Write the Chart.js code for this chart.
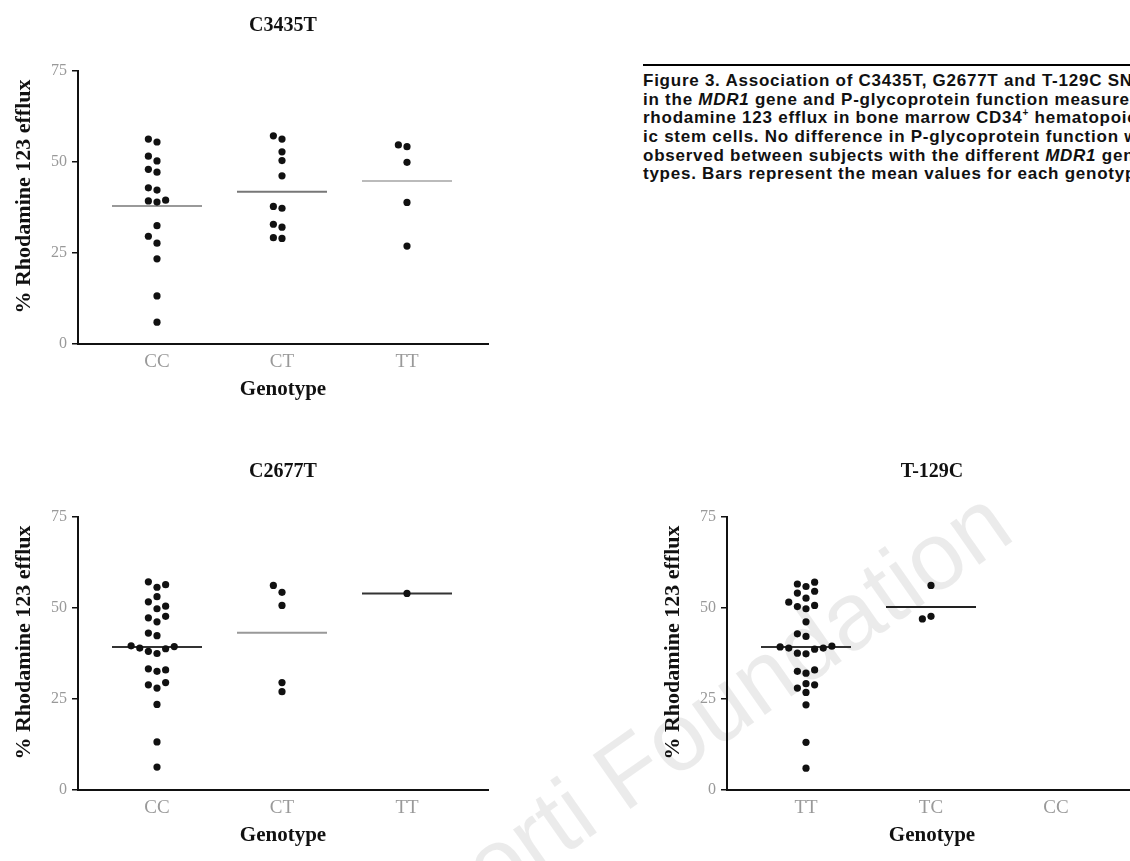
<!DOCTYPE html>
<html lang="en">
<head>
  <meta charset="UTF-8" />
  <title>MDR1 SNPs and rhodamine 123 efflux</title>
  <script src="https://cdn.jsdelivr.net/npm/chart.js"></script>
  <style>
    html, body { margin: 0; padding: 0; background: #fff; }
    #page { position: relative; width: 1130px; height: 861px; overflow: hidden; }
    .plot { position: absolute; width: 500px; height: 420px; }
    #p1 { left: 0; top: 0; }
    #p2 { left: 0; top: 446px; }
    #p3 { left: 649px; top: 446px; }
    #caption {
      position: absolute; left: 643px; top: 64px; width: 800px;
      border-top: 2px solid #000; padding-top: 6px;
      font: bold 17px "Liberation Sans", Arial, sans-serif; line-height: 18.66px;
      letter-spacing: 0.75px; white-space: nowrap; color: #111;
    }
    #caption sup { font-size: 10px; line-height: 0; }
    #mark {
      position: absolute; right: 100px; bottom: 305px;
      transform-origin: 100% 100%; transform: rotate(-35deg);
      font: 96px "Liberation Sans", Arial, sans-serif; color: rgba(0,0,0,0.08);
      white-space: nowrap;
    }
  </style>
</head>
<body>
<div id="page">
  <div id="mark">Ferrata Storti Foundation</div>

  <div id="caption">
    Figure 3. Association of C3435T, G2677T and T-129C SNPs<br>
    in the <i>MDR1</i> gene and P-glycoprotein function measured by<br>
    rhodamine 123 efflux in bone marrow CD34<sup>+</sup> hematopoiet-<br>
    ic stem cells. No difference in P-glycoprotein function was<br>
    observed between subjects with the different <i>MDR1</i> geno-<br>
    types. Bars represent the mean values for each genotype.
  </div>

  <div class="plot" id="p1"><canvas id="c1"></canvas></div>
  <div class="plot" id="p2"><canvas id="c2"></canvas></div>
  <div class="plot" id="p3"><canvas id="c3"></canvas></div>
</div>

<script>
  // shared axis texts
  const yTicks = [0, 25, 50, 75];
  const yTitle = '% Rhodamine 123 efflux';
  const xTitle = 'Genotype';

  // C3435T
  const c3435Title = 'C3435T';
  const c3435Cats = ['CC', 'CT', 'TT'];
  const c3435CC = [55.5, 56.3, 50.3, 51.6, 47.2, 48.0, 42.3, 42.9, 39.0, 39.3, 39.5, 32.5, 27.7, 29.6, 23.4, 13.2, 6.0];
  const c3435CT = [56.3, 57.2, 52.8, 50.4, 46.2, 37.3, 37.8, 32.1, 32.9, 29.0, 29.2];
  const c3435TT = [54.2, 54.7, 49.9, 38.9, 26.9];
  const c3435Means = [37.9, 41.8, 44.8];

  // C2677T
  const c2677Title = 'C2677T';
  const c2677Cats = ['CC', 'CT', 'TT'];
  const c2677CC = [55.7, 57.2, 56.4, 53.1, 49.8, 51.7, 50.5, 46.2, 47.3, 47.7, 42.4, 43.1,
                   37.5, 38.1, 38.8, 39.0, 39.4, 39.6, 32.6, 33.3, 33.0, 28.0, 28.9, 29.5, 23.5, 13.2, 6.3];
  const c2677CT = [54.3, 56.2, 50.7, 29.5, 27.0];
  const c2677TT = [54.0];
  const c2677Means = [39.3, 43.2, 54.0];

  // T-129C
  const t129Title = 'T-129C';
  const t129Cats = ['TT', 'TC', 'CC'];
  const t129TT = [55.9, 56.6, 57.1, 52.7, 54.6, 54.1, 49.8, 50.4, 50.7, 51.6, 46.2, 42.2, 42.9,
                  37.4, 37.6, 38.7, 39.0, 39.0, 39.3, 39.5, 32.1, 32.6, 33.0, 26.8, 28.0, 28.9, 29.2, 23.4, 13.1, 6.0];
  const t129TC = [47.7, 47.0, 56.2];
  const t129CC = [];
  const t129Means = [39.3, 50.3, null];

  const SERIF = '"Liberation Serif", "DejaVu Serif", serif';

  // simple column scatter: put each dot in the first free slot next to the column centre
  const STEP = 0.069, GAP = 2.2;
  const slots = [0, -1, 1, -2, 2, -3, 3, -4, 4];
  function swarm(values, cx) {
    const placed = [];
    values.forEach(v => {
      for (const k of slots) {
        if (!placed.some(p => p.k === k && Math.abs(p.y - v) < GAP)) {
          placed.push({ k, y: v });
          break;
        }
      }
    });
    return placed.map(p => ({ x: cx + p.k * STEP, y: p.y }));
  }

  function makeChart(id, title, cats, groups, means, meanColors) {
    const datasets = [];
    groups.forEach((vals, i) => {
      datasets.push({
        type: 'scatter', data: swarm(vals, i + 1),
        pointRadius: 3.6, pointHoverRadius: 3.6,
        pointBackgroundColor: '#111', pointBorderWidth: 0
      });
    });
    means.forEach((m, i) => {
      if (m == null) return;
      datasets.push({
        type: 'line', data: [{ x: i + 1 - 0.36, y: m }, { x: i + 1 + 0.36, y: m }],
        borderColor: meanColors[i], borderWidth: 2, pointRadius: 0, fill: false
      });
    });

    return new Chart(document.getElementById(id), {
      type: 'scatter',
      data: { datasets },
      options: {
        responsive: true, maintainAspectRatio: false, animation: false,
        layout: { padding: { right: 12 } },
        plugins: {
          legend: { display: false },
          tooltip: { enabled: false },
          title: {
            display: true, text: title, fullSize: false, color: '#111',
            font: { family: SERIF, size: 20, weight: 'bold' },
            padding: { top: 14, bottom: 33 }
          }
        },
        scales: {
          x: {
            type: 'linear', min: 0.368, max: 3.648,
            afterBuildTicks: s => { s.ticks = cats.map((c, i) => ({ value: i + 1 })); },
            ticks: {
              callback: v => cats[Math.round(v) - 1] ?? '',
              color: '#999', font: { family: SERIF, size: 19 },
              padding: 7, maxRotation: 0, autoSkip: false
            },
            grid: { display: false, drawTicks: false },
            border: { display: true, color: '#111', width: 2 },
            title: {
              display: true, text: xTitle, color: '#111',
              font: { family: SERIF, size: 21, weight: 'bold' },
              padding: { top: 0, bottom: 18 }
            },
            afterFit: s => { s.height = 76; }
          },
          y: {
            min: 0, max: 75,
            afterBuildTicks: s => { s.ticks = yTicks.map(v => ({ value: v })); },
            ticks: { color: '#999', font: { family: SERIF, size: 16 }, padding: 5 },
            grid: { display: true, drawOnChartArea: false, drawTicks: true, tickLength: 6, color: '#111', lineWidth: 1.5 },
            border: { display: true, color: '#111', width: 2 },
            title: {
              display: true, text: '    ' + yTitle, color: '#111',
              font: { family: SERIF, size: 22, weight: 'bold' },
              padding: { top: 11, bottom: 0 }
            },
            afterFit: s => { s.width = 78; }
          }
        }
      }
    });
  }

  makeChart('c1', c3435Title, c3435Cats, [c3435CC, c3435CT, c3435TT], c3435Means, ['#999', '#777', '#bbb']);
  makeChart('c2', c2677Title, c2677Cats, [c2677CC, c2677CT, c2677TT], c2677Means, ['#333', '#999', '#333']);
  makeChart('c3', t129Title, t129Cats, [t129TT, t129TC, t129CC], t129Means, ['#333', '#222', '#333']);
</script>
</body>
</html>
